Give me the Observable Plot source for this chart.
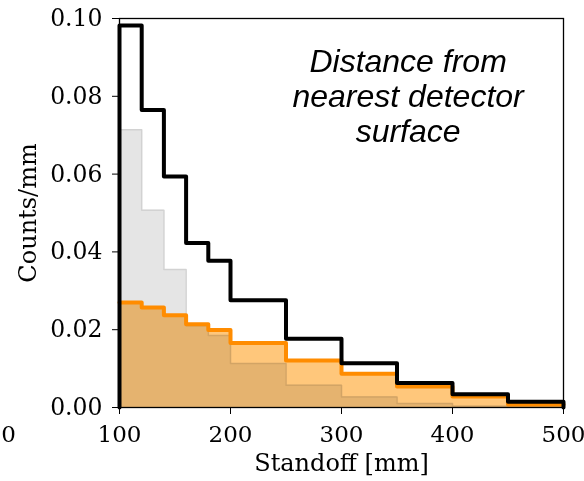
<!DOCTYPE html>
<html>
<head>
<meta charset="utf-8">
<script src="https://cdn.jsdelivr.net/npm/d3@7"></script>
<script src="https://cdn.jsdelivr.net/npm/@observablehq/plot@0.6"></script>
<style>
  html, body { margin: 0; padding: 0; background: #fff; }
  #chart svg { display: block; }
</style>
</head>
<body>
<div id="chart"></div>
<script>
// Bin edges (mm)
const edges = [100, 120, 140, 160, 180, 200, 250, 300, 350, 400, 450, 500];
// Series values (Counts/mm) per bin
const blackVals  = [0.0982, 0.0765, 0.0594, 0.0423, 0.0377, 0.0276, 0.0177, 0.0114, 0.0063, 0.0034, 0.0015];
const orangeVals = [0.0270, 0.0257, 0.0237, 0.0214, 0.0199, 0.0166, 0.0121, 0.0087, 0.0054, 0.0028, 0.0008];
const grayVals   = [0.0714, 0.0507, 0.0355, 0.0210, 0.0185, 0.0113, 0.0057, 0.0027, 0.0010, 0.0003, 0.0001];
const xTicks = [100, 200, 300, 400, 500];
const yTicks = [0, 0.02, 0.04, 0.06, 0.08, 0.10];
const annotation = "Distance from\nnearest detector\nsurface";

function steps(vals) {
  const pts = vals.map((v, i) => ({x: edges[i], y: v}));
  pts.push({x: edges[edges.length - 1], y: vals[vals.length - 1]});
  return pts;
}
function outline(vals) {
  const pts = steps(vals);
  return [{x: edges[0], y: 0}, ...pts, {x: edges[edges.length - 1], y: 0}];
}
const gray = steps(grayVals), orange = steps(orangeVals);

const chart = Plot.plot({
  width: 584,
  height: 481,
  marginLeft: 119,
  marginRight: 21,
  marginTop: 18,
  marginBottom: 74,
  style: {fontFamily: "'DejaVu Serif', serif", fontSize: "24px", color: "#000", background: "#fff"},
  x: {domain: [100, 500]},
  y: {domain: [0, 0.1]},
  marks: [
    Plot.areaY(gray, {x: "x", y: "y", curve: "step-after", fill: "#e5e5e5"}),
    Plot.line(outline(grayVals), {x: "x", y: "y", curve: "step-after", stroke: "#d2d2d2", strokeWidth: 1.5}),
    Plot.areaY(orange, {x: "x", y: "y", curve: "step-after", fill: "#ffc77b", mixBlendMode: "multiply"}),
    Plot.line(steps(orangeVals), {x: "x", y: "y", curve: "step-after", stroke: "#ff8c00", strokeWidth: 4}),
    Plot.line(outline(blackVals), {x: "x", y: "y", curve: "step-after", stroke: "#000", strokeWidth: 4}),
    Plot.frame({stroke: "#000", strokeWidth: 1.3}),
    Plot.axisX({ticks: xTicks, tickSize: 7, tickPadding: 11, tickFormat: d => String(d), label: null, fontSize: 23}),
    Plot.axisY({ticks: yTicks, tickSize: 7, tickPadding: 10, tickFormat: d3.format(".2f"), label: null, fontSize: 23.5}),
    Plot.text([0], {x: d => d, y: 0, text: d => String(d), dy: 18, lineAnchor: "top", fontSize: 23}),
    Plot.text(["Standoff [mm]"], {frameAnchor: "bottom", dy: 63, fontSize: 24, text: d => d}),
    Plot.text(["Counts/mm"], {frameAnchor: "left", dx: -91, rotate: -90, textAnchor: "middle", fontSize: 24, text: d => d}),
    Plot.text([annotation], {x: 360, y: 0.0801, text: d => d, fontFamily: "'Liberation Sans', Arial, sans-serif", fontStyle: "italic", fontSize: 32, lineHeight: 1.1})
  ]
});
document.getElementById("chart").appendChild(chart);
</script>
</body>
</html>
